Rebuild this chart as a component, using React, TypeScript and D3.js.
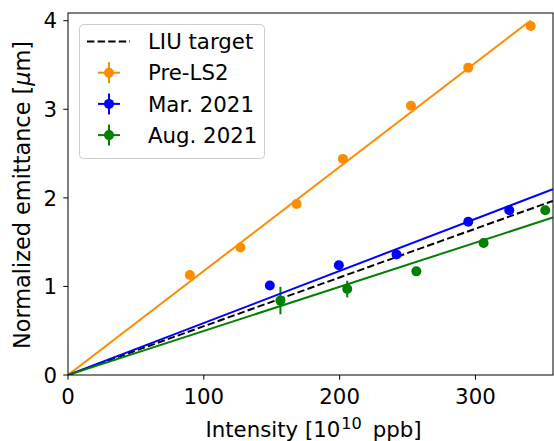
import * as d3 from "d3";

// measured points, x in 1e10 ppb, y in um
const preX = [89.7, 127.0, 168.3, 202.4, 252.5, 294.7, 340.7];
const preY = [1.13, 1.44, 1.93, 2.44, 3.04, 3.47, 3.94];
const preErr = [0.03, 0.03, 0.03, 0.03, 0.03, 0.03, 0.03];

const marX = [148.6, 199.4, 241.9, 294.7, 324.9];
const marY = [1.01, 1.24, 1.36, 1.73, 1.86];
const marErr = [0.03, 0.03, 0.03, 0.03, 0.03];

const augX = [156.4, 205.6, 256.5, 306.0, 351.4];
const augY = [0.84, 0.97, 1.17, 1.49, 1.86];
const augErr = [0.155, 0.094, 0.03, 0.03, 0.03];

// fitted lines, start and end points
const liuLine: [number, number][] = [[0, 0], [357, 1.966]];
const preLine: [number, number][] = [[0, 0], [340.7, 4.003]];
const marLine: [number, number][] = [[0, 0], [357, 2.098]];
const augLine: [number, number][] = [[0, 0], [357, 1.778]];

const xTicks = [0, 100, 200, 300];
const yTicks = [0, 1, 2, 3, 4];
const legendLabels = ["LIU target", "Pre-LS2", "Mar. 2021", "Aug. 2021"];

const ORANGE = "#ff8c00";
const BLUE = "#0000ff";
const GREEN = "#008000";

const W = 554;
const H = 441;
const margin = { top: 13, right: 1, bottom: 66, left: 68 };
const FONT = "'DejaVu Sans', sans-serif";
const FS = 21.3;

const App = () => {
  const x = d3.scaleLinear().domain([0, 357.1]).range([margin.left, W - margin.right]);
  const y = d3.scaleLinear().domain([0, 4.087]).range([H - margin.bottom, margin.top]);
  const line = d3
    .line<[number, number]>()
    .x((d) => x(d[0]))
    .y((d) => y(d[1]));

  const series = [
    { xs: preX, ys: preY, es: preErr, color: ORANGE },
    { xs: marX, ys: marY, es: marErr, color: BLUE },
    { xs: augX, ys: augY, es: augErr, color: GREEN },
  ];

  const x0 = margin.left;
  const y0 = H - margin.bottom;
  const midX = (margin.left + W - margin.right) / 2;
  const midY = (margin.top + H - margin.bottom) / 2;

  return (
    <svg width={W} height={H} style={{ position: "absolute", left: 0, top: 0 }} fontFamily={FONT}>
      <defs>
        <clipPath id="plot">
          <rect x={x0} y={margin.top} width={W - margin.right - x0} height={y0 - margin.top} />
        </clipPath>
      </defs>
      <rect width={W} height={H} fill="white" />

      <g clipPath="url(#plot)">
        <path d={line(liuLine) ?? ""} fill="none" stroke="black" strokeWidth={2} strokeDasharray="7.4,3.2" />
        {series.map((s, si) => (
          <g key={si}>
            {s.xs.map((xv, i) => (
              <line
                key={i}
                x1={x(xv)}
                x2={x(xv)}
                y1={y(s.ys[i] - s.es[i])}
                y2={y(s.ys[i] + s.es[i])}
                stroke={s.color}
                strokeWidth={2}
              />
            ))}
            {s.xs.map((xv, i) => (
              <circle key={"c" + i} cx={x(xv)} cy={y(s.ys[i])} r={5} fill={s.color} />
            ))}
          </g>
        ))}
        <path d={line(preLine) ?? ""} fill="none" stroke={ORANGE} strokeWidth={2} />
        <path d={line(marLine) ?? ""} fill="none" stroke={BLUE} strokeWidth={2} />
        <path d={line(augLine) ?? ""} fill="none" stroke={GREEN} strokeWidth={2} />
      </g>

      {/* frame */}
      <rect
        x={x0}
        y={margin.top}
        width={W - margin.right - x0}
        height={y0 - margin.top}
        fill="none"
        stroke="black"
        strokeWidth={1}
      />

      {/* x axis */}
      {xTicks.map((t) => (
        <g key={t}>
          <line x1={x(t)} x2={x(t)} y1={y0} y2={y0 + 4.7} stroke="black" />
          <text x={x(t)} y={404} textAnchor="middle" fontSize={FS}>
            {t}
          </text>
        </g>
      ))}
      {/* y axis */}
      {yTicks.map((t) => (
        <g key={t}>
          <line x1={x0 - 4.7} x2={x0} y1={y(t)} y2={y(t)} stroke="black" />
          <text x={x0 - 11} y={y(t)} dy="0.36em" textAnchor="end" fontSize={FS}>
            {t}
          </text>
        </g>
      ))}

      <text x={midX + 3} y={437} textAnchor="middle" fontSize={FS}>
        Intensity [10
        <tspan dx={1} dy={-8.5} fontSize={FS * 0.76}>
          10
        </tspan>
        <tspan dx={4} dy={8.5}> ppb]</tspan>
      </text>
      <text transform={`translate(30,${midY + 1}) rotate(-90)`} textAnchor="middle" fontSize={22.4}>
        Normalized emittance [<tspan fontStyle="italic">μ</tspan>m]
      </text>

      {/* legend */}
      <rect x={79.5} y={24.5} width={185} height={134} rx={4} fill="white" fillOpacity={0.8} stroke="#cccccc" />
      {legendLabels.map((lab, i) => {
        const ly = 41.5 + i * 31.2;
        const color = [null, ORANGE, BLUE, GREEN][i];
        return (
          <g key={lab}>
            {color === null ? (
              <line x1={87} x2={130} y1={ly} y2={ly} stroke="black" strokeWidth={2} strokeDasharray="7.4,3.2" />
            ) : (
              <g>
                <line x1={98} x2={120} y1={ly} y2={ly} stroke={color} strokeWidth={2} />
                <line x1={109} x2={109} y1={ly - 10.5} y2={ly + 10.5} stroke={color} strokeWidth={2} />
                <circle cx={109} cy={ly} r={5} fill={color} />
              </g>
            )}
            <text x={148} y={ly} dy="0.36em" fontSize={FS}>
              {lab}
            </text>
          </g>
        );
      })}
    </svg>
  );
};

export default App;
